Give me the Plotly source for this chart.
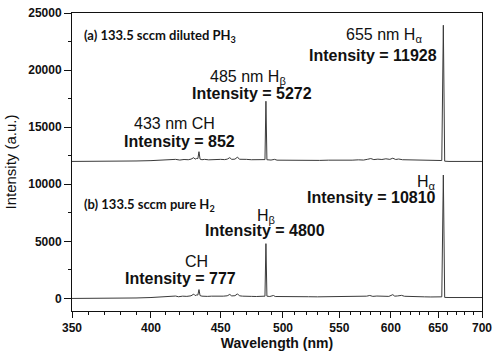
import plotly.graph_objects as go

# ---- data ----
wl_a = [350, 360, 370, 380, 390, 400, 405, 410, 414, 417, 420, 423, 426, 428, 430, 431, 432, 433,
        433.8, 434.6, 436, 438, 441, 444, 447, 450, 453, 455, 457, 458.5, 461, 463, 464.5, 467, 470,
        474, 478, 482, 485, 485.8, 486.6, 490, 493, 495, 500, 506, 512, 518, 525, 532, 540, 548, 555,
        562, 568, 573, 577, 580, 583, 587, 591, 595, 599, 602, 605, 608, 612, 616, 621, 627, 634, 641,
        648, 654, 655.7, 657.2, 662, 670, 680, 690, 700]
int_a = [12000, 12000, 12000, 12010, 12040, 12070, 12100, 12090, 12130, 12180, 12120, 12170, 12150, 12200,
         12330, 12200, 12260, 12250, 12852, 12200, 12150, 12180, 12140, 12170, 12150, 12180, 12160, 12200,
         12330, 12180, 12200, 12380, 12190, 12160, 12180, 12150, 12140, 12150, 12160, 17272, 12150, 12120,
         12180, 12110, 12100, 12120, 12090, 12110, 12100, 12090, 12110, 12100, 12120, 12110, 12140, 12120,
         12190, 12250, 12160, 12200, 12170, 12230, 12180, 12280, 12170, 12210, 12150, 12140, 12110, 12090,
         12080, 12070, 12070, 12080, 23928, 12020, 12000, 12000, 12000, 12000, 12000]

wl_b = [350, 360, 370, 380, 390, 400, 405, 410, 415, 417, 419, 422, 425, 428, 430, 431, 432, 433,
        433.8, 434.6, 436, 438, 440, 443, 446, 449, 452, 455, 457, 458.5, 461, 463, 464.5, 467, 470,
        474, 478, 482, 485, 485.8, 486.6, 489, 492, 493.5, 497, 502, 508, 515, 522, 530, 538, 545, 552,
        560, 566, 572, 576, 579, 582, 586, 590, 594, 598, 602, 604, 607, 611, 614, 618, 622, 628, 635,
        642, 648, 654, 655.7, 657.2, 662, 670, 680, 690, 700]
int_b = [0, 0, 0, 10, 40, 80, 120, 100, 160, 210, 150, 200, 180, 230, 380, 250, 300, 300,
         777, 250, 200, 220, 180, 200, 190, 230, 200, 230, 350, 220, 240, 400, 230, 200, 210,
         180, 170, 180, 200, 4800, 200, 170, 260, 170, 160, 150, 160, 140, 150, 140, 150, 140, 160,
         150, 170, 160, 200, 260, 180, 210, 190, 220, 180, 330, 200, 220, 270, 190, 170, 200, 150, 140,
         130, 130, 140, 10810, 90, 80, 80, 80, 80, 80]

x_ticks = [350, 400, 450, 500, 550, 600, 650, 700]
x_minor = [v for v in range(360, 700, 10) if v % 50 != 0]
y_ticks = [0, 5000, 10000, 15000, 20000, 25000]

W, H = 498, 357
L, R, T, B = 72, 12, 6, 46
PW, PH = W - L - R, H - T - B


def px(x):
    return (x - L) / PW


def py(y):
    return (H - B - y) / PH


fig = go.Figure()
for wl, it in ((wl_a, int_a), (wl_b, int_b)):
    fig.add_trace(go.Scatter(x=wl, y=it, mode="lines",
                             line=dict(color="#3a3a3a", width=1), showlegend=False))

ann_font = "Liberation Sans, Arial, sans-serif"
labels = [
    # text, x(px), y(px), size, family, anchor
    ("<b>(a) 133.5 sccm diluted PH<sub>3</sub></b>", 82, 30, 13, "Lato, sans-serif", "left"),
    ("<b>(b) 133.5 sccm pure H<sub>2</sub></b>", 82, 203, 13, "Lato, sans-serif", "left"),
    ("433 nm CH", 175, 119, 16, ann_font, "center"),
    ("<b>Intensity = 852</b>", 181, 138, 16, ann_font, "center"),
    ("485 nm H<sub>β</sub>", 250, 72, 16, ann_font, "center"),
    ("<b>Intensity = 5272</b>", 254, 88, 16, ann_font, "center"),
    ("655 nm H<sub>α</sub>", 387, 29, 16, ann_font, "center"),
    ("<b>Intensity = 11928</b>", 376, 49, 16, ann_font, "center"),
    ("CH", 198, 260, 16, ann_font, "center"),
    ("<b>Intensity = 777</b>", 182, 278, 16, ann_font, "center"),
    ("H<sub>β</sub>", 268, 214, 16, ann_font, "center"),
    ("<b>Intensity = 4800</b>", 266.5, 229, 16, ann_font, "center"),
    ("H<sub>α</sub>", 430, 179, 16, ann_font, "center"),
    ("<b>Intensity = 10810</b>", 374.5, 195, 16, ann_font, "center"),
]
for text, x, y, size, fam, anch in labels:
    fig.add_annotation(text=text, x=px(x), y=py(y), xref="paper", yref="paper",
                       xanchor=anch, yanchor="middle", showarrow=False,
                       font=dict(size=size, family=fam, color="#111111"))

axis_font = dict(family="Liberation Sans, Arial, sans-serif", size=12, color="#111111")
fig.update_layout(
    width=W, height=H,
    margin=dict(l=L, r=R, t=T, b=B),
    paper_bgcolor="white", plot_bgcolor="white",
    xaxis=dict(
        type="log", range=[2.5440680443502757, 2.845098040014257],
        tickmode="array", tickvals=x_ticks, ticktext=["<b>%d</b>" % v for v in x_ticks],
        ticks="outside", ticklen=6, tickcolor="#111", tickwidth=1,
        minor=dict(tickmode="array", tickvals=x_minor, ticks="outside", ticklen=3,
                   tickcolor="#111", showgrid=False),
        showline=True, linecolor="#111", linewidth=1, mirror=True,
        showgrid=False, zeroline=False, tickfont=axis_font,
        title=dict(text="<b>Wavelength (nm)</b>", standoff=3,
                   font=dict(family="Liberation Sans, Arial, sans-serif", size=14, color="#111")),
    ),
    yaxis=dict(
        range=[-1100, 25000],
        tickmode="array", tickvals=y_ticks, ticktext=["<b>%d</b>" % v for v in y_ticks],
        ticks="outside", ticklen=7, tickcolor="#111", tickwidth=1,
        minor=dict(dtick=2500, tick0=0, ticks="outside", ticklen=3, tickcolor="#111",
                   showgrid=False),
        showline=True, linecolor="#111", linewidth=1, mirror=True,
        showgrid=False, zeroline=False, tickfont=axis_font,
        title=dict(text="Intensity (a.u.)", standoff=7,
                   font=dict(family="Liberation Sans, Arial, sans-serif", size=15, color="#111")),
    ),
)

fig.write_html("out.html", config={"displayModeBar": False},
               post_script="document.body.style.margin='0';")
